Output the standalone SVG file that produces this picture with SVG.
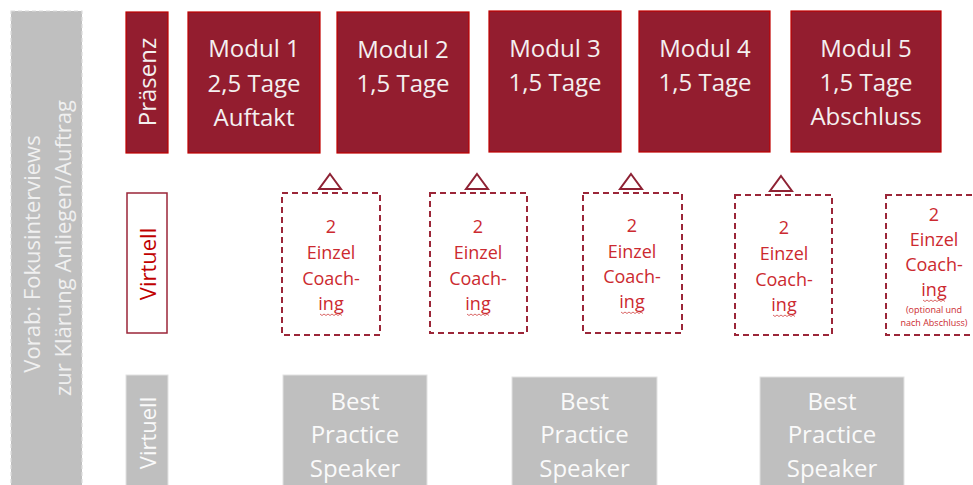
<svg xmlns="http://www.w3.org/2000/svg" width="973" height="485" viewBox="0 0 973 485">
<style>
text{font-family:"Open Sans","Noto Sans","Liberation Sans",sans-serif;text-anchor:middle}
.mod{fill:#931d2f;stroke:#c00000;stroke-width:1.2}
.modt{fill:#f4f0f0;font-size:24px}
.gray{fill:#bfbfbf;stroke:#e2e2e2;stroke-width:1}
.grayt{fill:#fafafa;font-size:24px}
.coach{fill:#ffffff;stroke:#9b2638;stroke-width:2;stroke-dasharray:6 4}
.ct{fill:#cc2a30;font-size:18px}
.small{fill:#cc2a30;font-size:9px}
.tri{fill:#ffffff;stroke:#8e2234;stroke-width:2;stroke-linejoin:miter}
.wavy{fill:none;stroke:#d04040;stroke-width:0.8}
</style>

<g id="vorab">
<rect x="11" y="11" width="71" height="480" fill="#bfbfbf" stroke="#dcdcdc" stroke-width="1.2" stroke-dasharray="4 3"/>
<text transform="translate(40,254) rotate(-90)" fill="#f0f0f0" font-size="22">Vorab: Fokusinterviews</text>
<text transform="translate(71,248) rotate(-90)" fill="#f0f0f0" font-size="22">zur Klärung Anliegen/Auftrag</text>
</g>

<g id="label-praesenz">
<rect class="mod" x="126" y="12" width="42" height="141"/>
<text class="modt" transform="translate(156,82) rotate(-90)" font-size="22">Präsenz</text>
</g>
<g id="label-virtuell1">
<rect x="127" y="193" width="40" height="140" fill="#ffffff" stroke="#9b2638" stroke-width="1.5"/>
<text transform="translate(156,264) rotate(-90)" fill="#c00000" font-size="22">Virtuell</text>
</g>
<g id="label-virtuell2">
<rect class="gray" x="126" y="375" width="42" height="115"/>
<text transform="translate(156,433) rotate(-90)" fill="#fafafa" font-size="22">Virtuell</text>
</g>

<g id="modul1">
<rect class="mod" x="188" y="12" width="132" height="141"/>
<text class="modt" x="254" y="57">Modul 1</text>
<text class="modt" x="254" y="92">2,5 Tage</text>
<text class="modt" x="254" y="126">Auftakt</text>
</g>
<g id="modul2">
<rect class="mod" x="337" y="12" width="132" height="141"/>
<text class="modt" x="403" y="58">Modul 2</text>
<text class="modt" x="403" y="92">1,5 Tage</text>
</g>
<g id="modul3">
<rect class="mod" x="489" y="11" width="132" height="141"/>
<text class="modt" x="555" y="57">Modul 3</text>
<text class="modt" x="555" y="91">1,5 Tage</text>
</g>
<g id="modul4">
<rect class="mod" x="639" y="11" width="131" height="141"/>
<text class="modt" x="705" y="57">Modul 4</text>
<text class="modt" x="705" y="91">1,5 Tage</text>
</g>
<g id="modul5">
<rect class="mod" x="791" y="11" width="150" height="141"/>
<text class="modt" x="866" y="57">Modul 5</text>
<text class="modt" x="866" y="91">1,5 Tage</text>
<text class="modt" x="866" y="125">Abschluss</text>
</g>

<g id="connectors">
<polygon class="tri" points="330,174 341,189 319,189"/>
<polygon class="tri" points="477,174 488,189 466,189"/>
<polygon class="tri" points="631,174 642,189 620,189"/>
<polygon class="tri" points="781,176 792,191 770,191"/>
</g>

<g id="coaching1">
<rect class="coach" x="282" y="193" width="98" height="142"/>
<text class="ct" x="331" y="233">2</text>
<text class="ct" x="331" y="259">Einzel</text>
<text class="ct" x="331" y="285">Coach-</text>
<text class="ct" x="331" y="310">ing</text>
<path class="wavy" d="M320 314 l2 1.5 l2 -1.5 l2 1.5 l2 -1.5 l2 1.5 l2 -1.5 l2 1.5 l2 -1.5 l2 1.5 l2 -1.5 l2 1.5"/>
</g>
<g id="coaching2">
<rect class="coach" x="430" y="193" width="97" height="140"/>
<text class="ct" x="478" y="233">2</text>
<text class="ct" x="478" y="259">Einzel</text>
<text class="ct" x="478" y="285">Coach-</text>
<text class="ct" x="478" y="310">ing</text>
<path class="wavy" d="M467 314 l2 1.5 l2 -1.5 l2 1.5 l2 -1.5 l2 1.5 l2 -1.5 l2 1.5 l2 -1.5 l2 1.5 l2 -1.5 l2 1.5"/>
</g>
<g id="coaching3">
<rect class="coach" x="583" y="193" width="99" height="140"/>
<text class="ct" x="632" y="232">2</text>
<text class="ct" x="632" y="258">Einzel</text>
<text class="ct" x="632" y="283">Coach-</text>
<text class="ct" x="632" y="308">ing</text>
<path class="wavy" d="M621 312 l2 1.5 l2 -1.5 l2 1.5 l2 -1.5 l2 1.5 l2 -1.5 l2 1.5 l2 -1.5 l2 1.5 l2 -1.5 l2 1.5"/>
</g>
<g id="coaching4">
<rect class="coach" x="735" y="195" width="97" height="140"/>
<text class="ct" x="784" y="234">2</text>
<text class="ct" x="784" y="260">Einzel</text>
<text class="ct" x="784" y="286">Coach-</text>
<text class="ct" x="784" y="311">ing</text>
<path class="wavy" d="M773 315 l2 1.5 l2 -1.5 l2 1.5 l2 -1.5 l2 1.5 l2 -1.5 l2 1.5 l2 -1.5 l2 1.5 l2 -1.5 l2 1.5"/>
</g>
<g id="coaching5">
<rect class="coach" x="886" y="195" width="97" height="140"/>
<text class="ct" x="934" y="221">2</text>
<text class="ct" x="934" y="246">Einzel</text>
<text class="ct" x="934" y="271">Coach-</text>
<text class="ct" x="934" y="296">ing</text>
<path class="wavy" d="M923 300 l2 1.5 l2 -1.5 l2 1.5 l2 -1.5 l2 1.5 l2 -1.5 l2 1.5 l2 -1.5 l2 1.5 l2 -1.5 l2 1.5"/>
<text class="small" x="934" y="313">(optional und</text>
<text class="small" x="934" y="326">nach Abschluss)</text>
</g>

<g id="speaker1">
<rect class="gray" x="283" y="375" width="144" height="115"/>
<text class="grayt" x="355" y="410">Best</text>
<text class="grayt" x="355" y="443">Practice</text>
<text class="grayt" x="355" y="477">Speaker</text>
</g>
<g id="speaker2">
<rect class="gray" x="512" y="377" width="145" height="113"/>
<text class="grayt" x="584.5" y="410">Best</text>
<text class="grayt" x="584.5" y="443">Practice</text>
<text class="grayt" x="584.5" y="477">Speaker</text>
</g>
<g id="speaker3">
<rect class="gray" x="760" y="377" width="144" height="113"/>
<text class="grayt" x="832" y="410">Best</text>
<text class="grayt" x="832" y="443">Practice</text>
<text class="grayt" x="832" y="477">Speaker</text>
</g>
</svg>
